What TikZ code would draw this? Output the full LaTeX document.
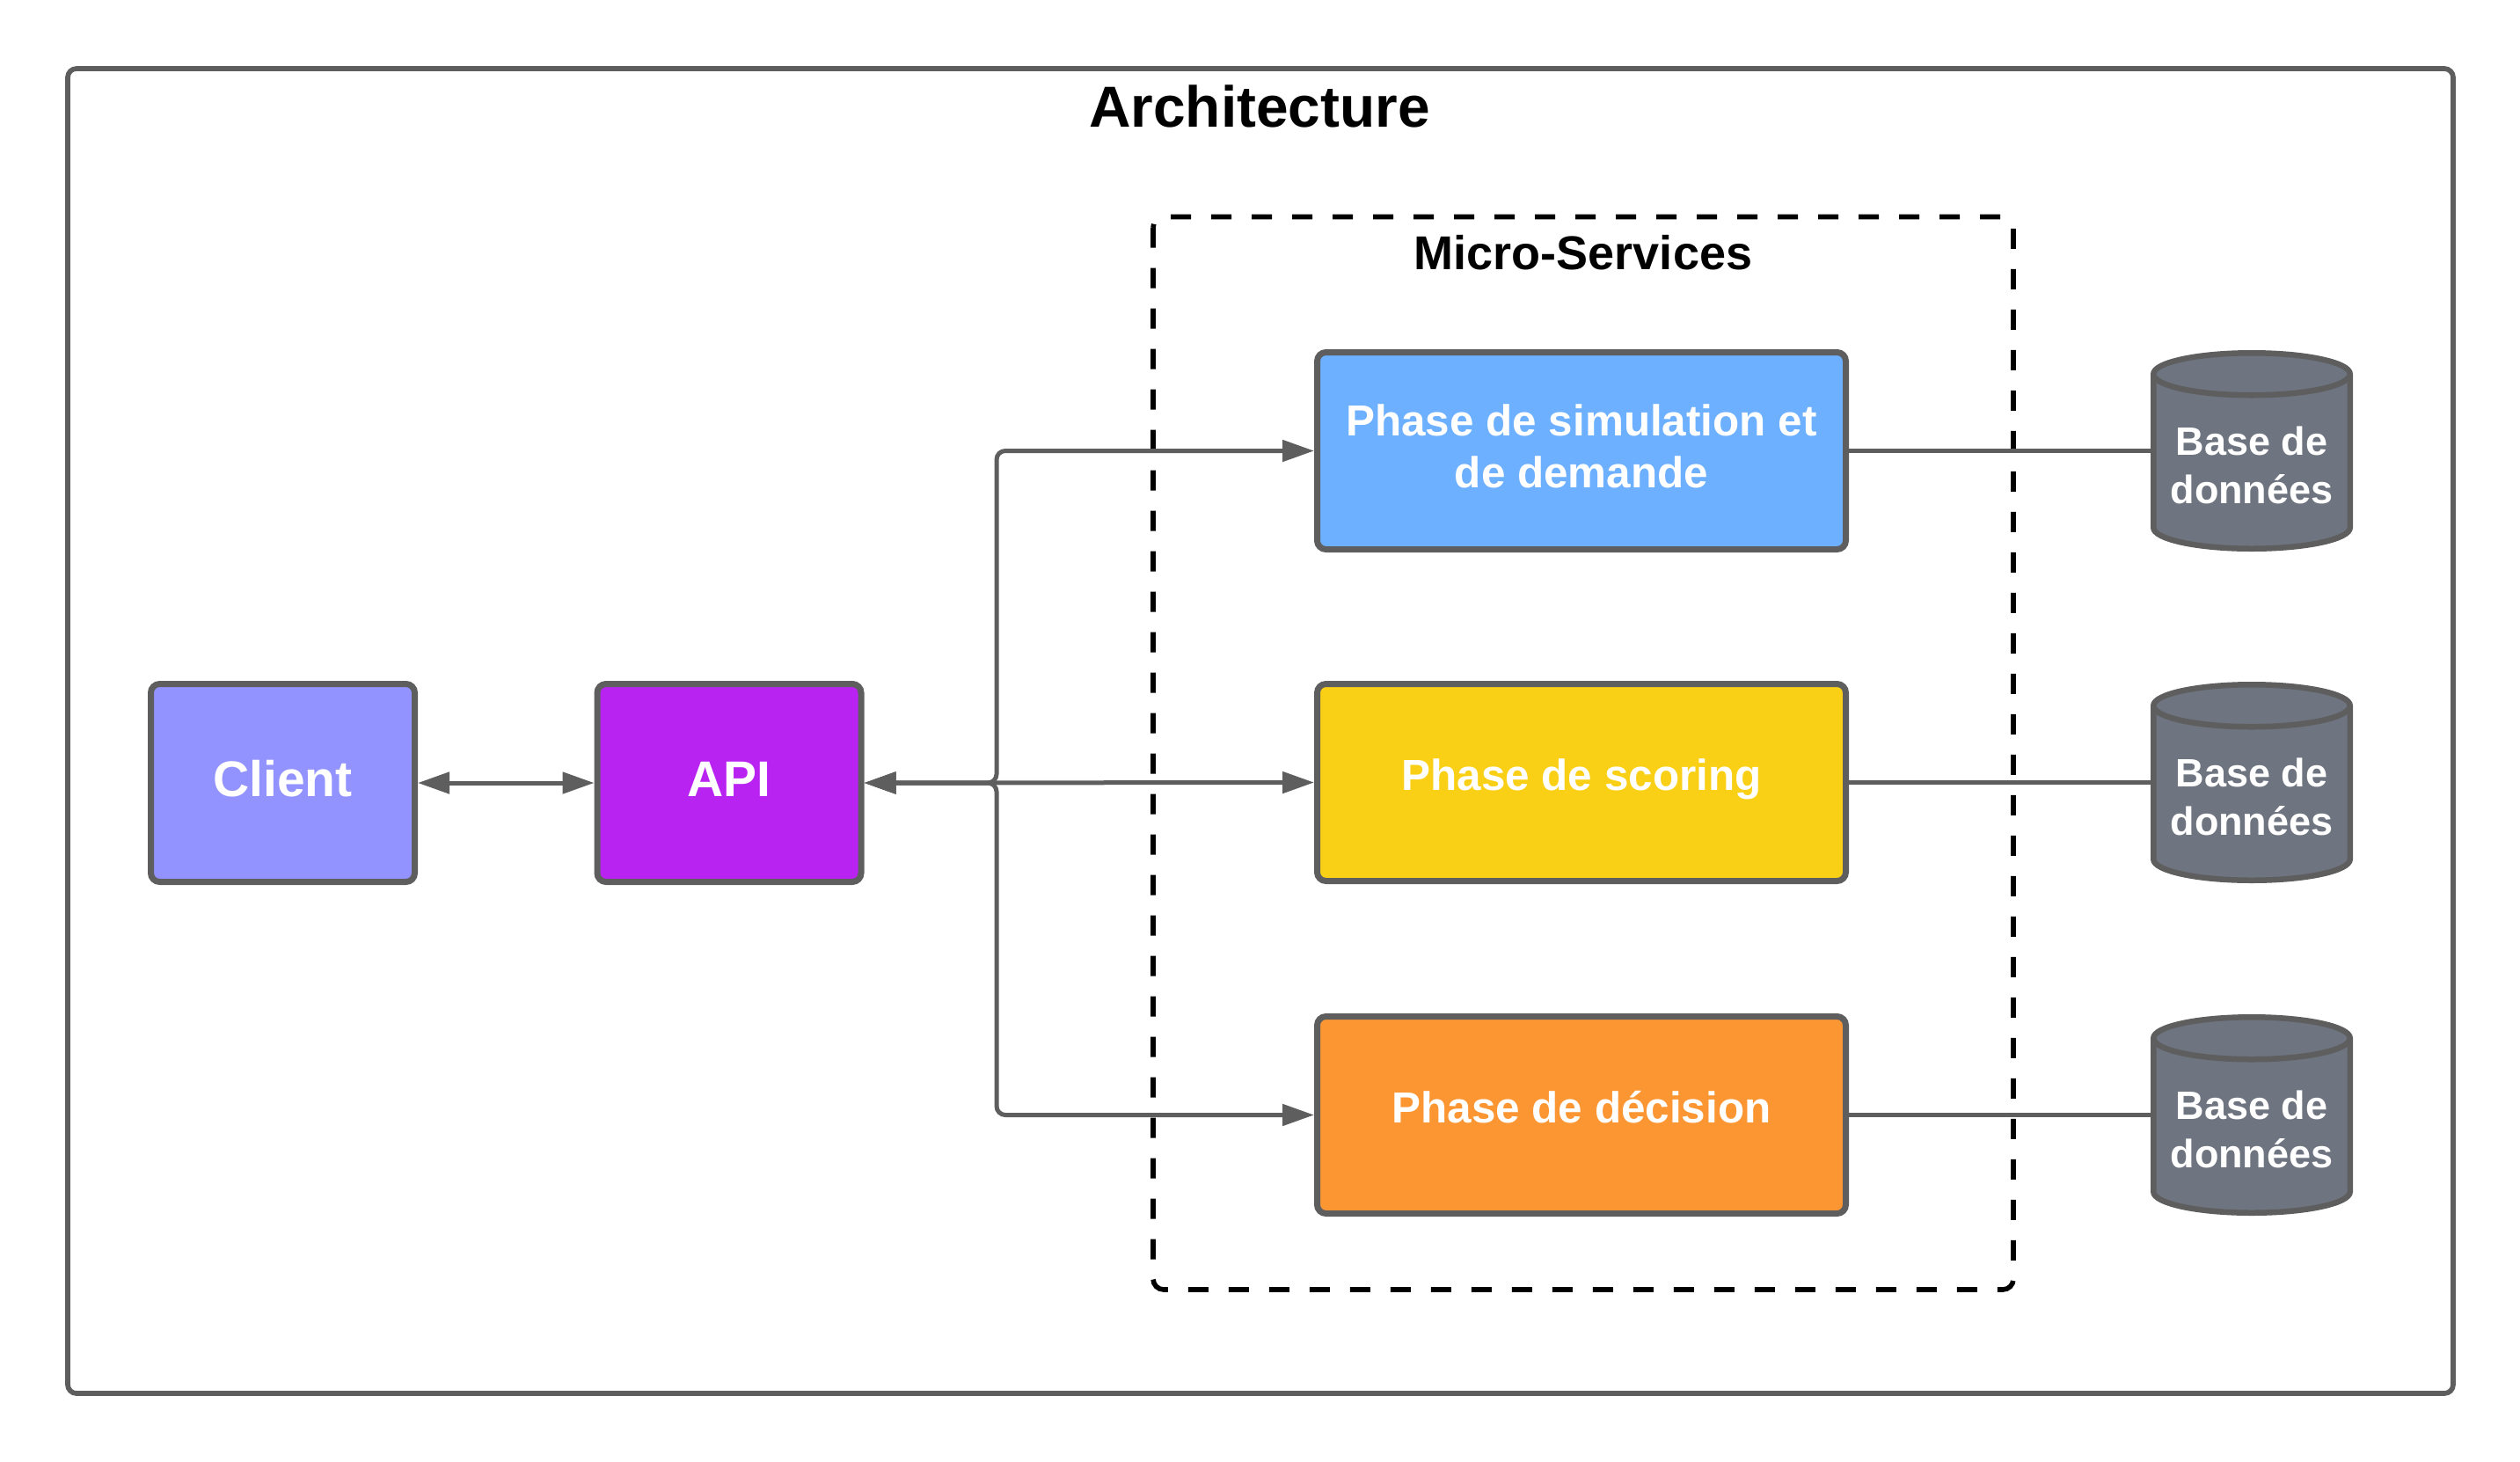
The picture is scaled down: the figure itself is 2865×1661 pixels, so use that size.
\documentclass[tikz,border=0pt]{standalone}
\usepackage{fontspec}
\setmainfont{Liberation Sans}
\usetikzlibrary{arrows.meta,calc}
\definecolor{bordergray}{HTML}{5E5E5E}
\definecolor{clientcol}{HTML}{9393FF}
\definecolor{apicol}{HTML}{B923F2}
\definecolor{simcol}{HTML}{6CB0FF}
\definecolor{scorecol}{HTML}{FAD016}
\definecolor{deccol}{HTML}{FB9633}
\definecolor{dbgray}{HTML}{6E7480}
\newcommand\dbcyl[2]{%
  \node[dbbox] (#1) at (2560,-#2) {};
  \draw[dbline, fill=dbgray] ([yshift=-12pt]#1.north west) -- ([yshift=12pt]#1.south west)
    arc[start angle=180,end angle=360,x radius=111.75,y radius=24]
    -- ([yshift=-12pt]#1.north east)
    arc[start angle=0,end angle=180,x radius=111.75,y radius=24] -- cycle;
  \draw[dbline] ([yshift=-12pt]#1.north west) arc[start angle=180,end angle=360,x radius=111.75,y radius=24];
  \node[dbtext] (#1t) at ([yshift=-8pt]#1.center) {Base de\\données};
}
\begin{document}
\begin{tikzpicture}[x=0.5pt,y=0.5pt,
  frame/.style={draw=bordergray, line width=2.85pt, rounded corners=5pt},
  dashbox/.style={draw=black, line width=2.8pt, dash pattern=on 11.5pt off 11.5pt, rounded corners=6pt},
  title/.style={font=\bfseries\fontsize{32.9pt}{38pt}\selectfont, text=black, inner sep=0pt},
  subtitle/.style={font=\bfseries\fontsize{27pt}{32pt}\selectfont, text=black, inner sep=0pt},
  box/.style={draw=bordergray, line width=3.5pt, rounded corners=5pt, inner sep=0pt},
  smallbox/.style={box, minimum width=150pt, minimum height=112.5pt},
  phasebox/.style={box, minimum width=300.5pt, minimum height=112pt},
  bigtext/.style={text=white, inner sep=0pt, anchor=base, font=\bfseries\fontsize{28.5pt}{34pt}\selectfont},
  phasetext/.style={text=white, inner sep=0pt, align=center, font=\bfseries\fontsize{24.7pt}{29.5pt}\selectfont},
  dbbox/.style={rectangle, minimum width=111.75pt, minimum height=111.25pt, inner sep=0pt, outer sep=0pt},
  dbline/.style={draw=bordergray, line width=3.25pt},
  dbtext/.style={text=white, align=center, inner sep=0pt, font=\bfseries\fontsize{22.5pt}{27.5pt}\selectfont},
  conn/.style={draw=bordergray, line width=2.5pt},
  tip/.tip={Triangle[length=18pt,width=12pt]}
]
\useasboundingbox (0,0) rectangle (2865,-1661);
\draw[frame] (77,-78) rectangle (2789,-1584);
\node[title] (arch) at (1432,-121) {Architecture};
\draw[dashbox] (1311,-246.5) rectangle (2289,-1466);
\node[subtitle] (ms) at (1800,-287) {Micro-Services};

\node[smallbox, fill=clientcol] (client) at (321.5,-890) {};
\node[bigtext] (clientt) at (321.5,-905.5) {Client};
\node[smallbox, fill=apicol] (api) at (829,-890) {};
\node[bigtext] (apit) at (829,-905.5) {API};

\node[phasebox, fill=simcol] (sim) at (1798,-512.5) {};
\node[phasetext] (simt) at (1798,-507) {Phase de simulation et\\de demande};
\node[phasebox, fill=scorecol] (score) at (1798,-889.5) {};
\node[phasetext, anchor=base] (scoret) at (1798,-898) {Phase de scoring};
\node[phasebox, fill=deccol] (dec) at (1798,-1267.5) {};
\node[phasetext, anchor=base] (dect) at (1798,-1276) {Phase de décision};

\dbcyl{db1}{512.5}
\dbcyl{db2}{889.5}
\dbcyl{db3}{1267.5}

\coordinate (jx) at (1133,-890);
\draw[conn, tip-tip] (client.east) -- (api.west);
\draw[conn, tip-tip, rounded corners=5pt] (api.east) -- (api.east -| jx) |- (sim.west);
\draw[conn, tip-tip, rounded corners=5pt] (api.east) -- (api.east -| jx) |- (dec.west);
\draw[conn, tip-tip] (api.east) -- (score.west);

\draw[conn] (sim.east) -- (db1.west);
\draw[conn] (score.east) -- (db2.west);
\draw[conn] (dec.east) -- (db3.west);
\end{tikzpicture}
\end{document}
